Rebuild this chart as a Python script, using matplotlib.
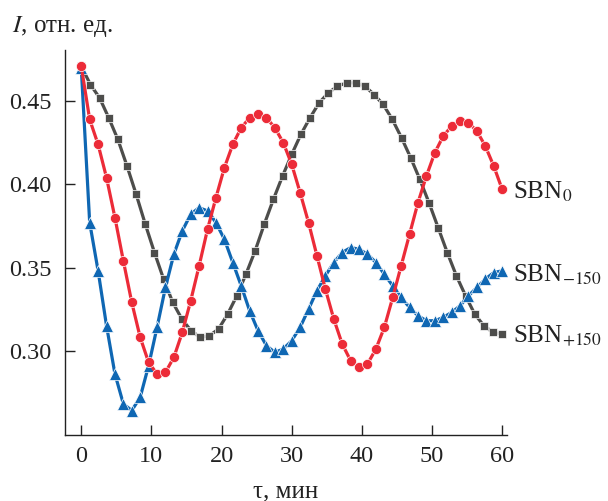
import numpy as np
import matplotlib
matplotlib.use("Agg")
import matplotlib.pyplot as plt

plt.rcParams['font.family'] = ['Liberation Serif', 'DejaVu Serif']
plt.rcParams['mathtext.fontset'] = 'stix'

# time grids (min)
t_rb = np.linspace(0, 60, 51)
t_gray = np.linspace(0, 60, 47)

sbn0 = [0.471, 0.439, 0.424, 0.404, 0.380, 0.354, 0.329, 0.308, 0.293, 0.286,
        0.287, 0.296, 0.311, 0.330, 0.351, 0.373, 0.392, 0.410, 0.424, 0.434,
        0.440, 0.442, 0.440, 0.434, 0.425, 0.412, 0.395, 0.377, 0.357, 0.337,
        0.319, 0.304, 0.294, 0.290, 0.292, 0.301, 0.314, 0.332, 0.351, 0.370,
        0.389, 0.405, 0.419, 0.429, 0.435, 0.438, 0.437, 0.432, 0.423, 0.411,
        0.397]

sbn_m150 = [0.470, 0.377, 0.348, 0.315, 0.286, 0.268, 0.264, 0.272, 0.291, 0.314,
            0.338, 0.358, 0.372, 0.382, 0.386, 0.384, 0.377, 0.367, 0.353, 0.339,
            0.324, 0.312, 0.303, 0.299, 0.301, 0.306, 0.314, 0.325, 0.336, 0.345,
            0.353, 0.359, 0.362, 0.361, 0.358, 0.353, 0.346, 0.339, 0.332, 0.326,
            0.321, 0.318, 0.318, 0.320, 0.323, 0.327, 0.333, 0.338, 0.343, 0.347,
            0.348]

sbn_p150 = [0.471, 0.460, 0.452, 0.440, 0.427, 0.411, 0.394, 0.376, 0.359, 0.343,
            0.329, 0.319, 0.312, 0.308, 0.309, 0.313, 0.322, 0.333, 0.346, 0.360,
            0.376, 0.391, 0.405, 0.418, 0.430, 0.440, 0.449, 0.455, 0.459, 0.461,
            0.461, 0.459, 0.454, 0.448, 0.439, 0.428, 0.416, 0.403, 0.389, 0.374,
            0.359, 0.345, 0.333, 0.322, 0.315, 0.311, 0.310]

fig = plt.figure(figsize=(6.08, 5.01), dpi=100)
ax = fig.add_axes([0.1077, 0.1317, 0.7263, 0.7683])

ax.plot(t_gray, sbn_p150, color='#4d4d4b', lw=2.3, marker='s', ms=6.2,
        mec='white', mew=0.5, zorder=2)
ax.plot(t_rb, sbn_m150, color='#0f67b3', lw=2.3, marker='^', ms=8,
        mec='white', mew=0.5, zorder=3)
ax.plot(t_rb, sbn0, color='#ec2b38', lw=2.3, marker='o', ms=7.3,
        mec='white', mew=0.5, zorder=4)

ax.set_xlim(-2.25, 60.7)
ax.set_ylim(0.2493, 0.4807)
ax.set_xticks([0, 10, 20, 30, 40, 50, 60])
ax.set_yticks([0.30, 0.35, 0.40, 0.45])
ax.set_yticklabels(['0.30', '0.35', '0.40', '0.45'])

for s in ['top', 'right']:
    ax.spines[s].set_visible(False)
for s in ['left', 'bottom']:
    ax.spines[s].set_linewidth(1.0)
    ax.spines[s].set_color('#222222')
ax.tick_params(direction='in', length=7, width=1.0, labelsize=17.5,
               colors='#222222', pad=8)
ax.tick_params(axis='y', pad=10)

ax.text(61.6, 0.3915, 'SBN$_0$', fontsize=18, va='baseline', clip_on=False, color='#222222')
ax.text(61.6, 0.3414, 'SBN$_{-150}$', fontsize=18, va='baseline', clip_on=False, color='#222222')
ax.text(61.6, 0.3053, 'SBN$_{+150}$', fontsize=18, va='baseline', clip_on=False, color='#222222')

fig.text(12 / 608, 1 - 32 / 501, '$I$, отн. ед.', fontsize=18, va='baseline', color='#222222')
fig.text(0.4705, 1 - 497 / 501, 'τ, мин', fontsize=18, ha='center', va='baseline', color='#222222')

fig.savefig('out.png', dpi=100)
